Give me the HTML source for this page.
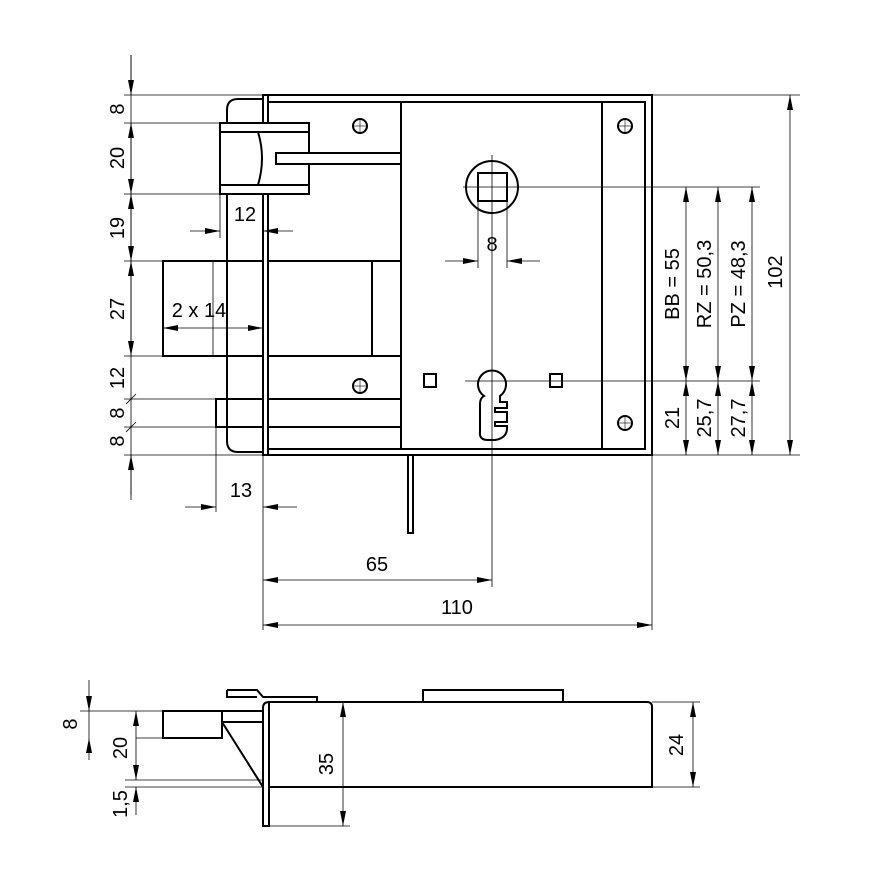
<!DOCTYPE html>
<html><head><meta charset="utf-8"><style>
html,body{margin:0;padding:0;background:#fff}
svg{display:block}
text{font-family:"Liberation Sans",sans-serif;font-size:20px;fill:#000}
</style></head><body>
<svg width="886" height="886" viewBox="0 0 886 886" xmlns="http://www.w3.org/2000/svg">
<defs>
<marker id="a" viewBox="0 0 10 10" refX="10" refY="5" markerWidth="15" markerHeight="6" preserveAspectRatio="none" markerUnits="userSpaceOnUse" orient="auto-start-reverse"><path d="M0,0L10,5L0,10z" fill="#000"/></marker>
</defs>
<g fill="none" stroke="#000" stroke-width="0.8">
<line x1="124" y1="95" x2="800" y2="95"/>
<line x1="124" y1="123" x2="220" y2="123"/>
<line x1="124" y1="194" x2="220" y2="194"/>
<line x1="124" y1="261" x2="163" y2="261"/>
<line x1="124" y1="356" x2="163" y2="356"/>
<line x1="124" y1="399" x2="216" y2="399"/>
<line x1="124" y1="427" x2="216" y2="427"/>
<line x1="124" y1="455" x2="800" y2="455"/>
<line x1="126" y1="404" x2="136" y2="394"/>
<line x1="126" y1="432" x2="136" y2="422"/>
<line x1="131" y1="55" x2="131" y2="500"/>
<line x1="463" y1="187" x2="760" y2="187"/>
<line x1="465" y1="381" x2="760" y2="381"/>
<line x1="492" y1="155" x2="492" y2="587"/>
<line x1="478" y1="195" x2="478" y2="268"/>
<line x1="507" y1="195" x2="507" y2="268"/>
<line x1="220" y1="194" x2="220" y2="238"/>
<line x1="213" y1="261" x2="213" y2="356"/>
<line x1="216" y1="427" x2="216" y2="512"/>
<line x1="263" y1="455" x2="263" y2="630"/>
<line x1="652" y1="455" x2="652" y2="630"/>
<line x1="131" y1="55" x2="131" y2="95" marker-end="url(#a)"/>
<line x1="131" y1="123" x2="131" y2="194" marker-start="url(#a)" marker-end="url(#a)"/>
<line x1="131" y1="194" x2="131" y2="261" marker-start="url(#a)" marker-end="url(#a)"/>
<line x1="131" y1="261" x2="131" y2="356" marker-start="url(#a)" marker-end="url(#a)"/>
<line x1="131" y1="495" x2="131" y2="455" marker-end="url(#a)"/>
<line x1="190" y1="231" x2="220" y2="231" marker-end="url(#a)"/>
<line x1="293" y1="231" x2="263" y2="231" marker-end="url(#a)"/>
<line x1="163" y1="328" x2="263" y2="328" marker-start="url(#a)" marker-end="url(#a)"/>
<line x1="445" y1="261" x2="478" y2="261" marker-end="url(#a)"/>
<line x1="540" y1="261" x2="507" y2="261" marker-end="url(#a)"/>
<line x1="185" y1="507" x2="216" y2="507" marker-end="url(#a)"/>
<line x1="297" y1="507" x2="263" y2="507" marker-end="url(#a)"/>
<line x1="263" y1="580" x2="492" y2="580" marker-start="url(#a)" marker-end="url(#a)"/>
<line x1="263" y1="625" x2="652" y2="625" marker-start="url(#a)" marker-end="url(#a)"/>
<line x1="686" y1="187" x2="686" y2="381" marker-start="url(#a)" marker-end="url(#a)"/>
<line x1="718" y1="187" x2="718" y2="381" marker-start="url(#a)" marker-end="url(#a)"/>
<line x1="752" y1="187" x2="752" y2="381" marker-start="url(#a)" marker-end="url(#a)"/>
<line x1="686" y1="381" x2="686" y2="455" marker-start="url(#a)" marker-end="url(#a)"/>
<line x1="718" y1="381" x2="718" y2="455" marker-start="url(#a)" marker-end="url(#a)"/>
<line x1="752" y1="381" x2="752" y2="455" marker-start="url(#a)" marker-end="url(#a)"/>
<line x1="790" y1="95" x2="790" y2="455" marker-start="url(#a)" marker-end="url(#a)"/>
</g>
<g fill="none" stroke="#000" stroke-width="2">
<rect x="263" y="95" width="389" height="360"/>
<line x1="268" y1="95" x2="268" y2="455"/>
<rect x="268" y="102" width="377" height="347"/>
<line x1="401" y1="102" x2="401" y2="449"/>
<line x1="602" y1="102" x2="602" y2="449"/>
<path d="M263,99 H238 Q227,99 227,110 V441 Q227,452 238,452 H263"/>
<rect x="220" y="123" width="89" height="71" fill="#fff"/>
<line x1="220" y1="132" x2="309" y2="132"/>
<line x1="220" y1="185" x2="309" y2="185"/>
<path d="M258,132 Q266,158 258,185"/>
<rect x="276" y="153" width="125" height="11" fill="#fff"/>
<rect x="163" y="261" width="100" height="95"/>
<line x1="268" y1="261" x2="401" y2="261"/>
<line x1="268" y1="356" x2="401" y2="356"/>
<line x1="372" y1="261" x2="372" y2="356"/>
<line x1="227" y1="261" x2="227" y2="356"/>
<rect x="216" y="399" width="47" height="28"/>
<line x1="268" y1="399" x2="401" y2="399"/>
<line x1="268" y1="427" x2="401" y2="427"/>
<circle cx="360" cy="126" r="7"/><circle cx="360" cy="386" r="7"/>
<circle cx="625" cy="126" r="7"/><circle cx="625" cy="423" r="7"/>
<circle cx="492" cy="187" r="26"/>
<rect x="478" y="173" width="29" height="28"/>
<rect x="424" y="374" width="12" height="13"/>
<rect x="550" y="374" width="12" height="13"/>
<path d="M484,396 A14,14 0 1 1 500,396 V402 H507 V408 H495 V412 H507 V422 H495 V426 H507 Q508,438 495,440 H488 Q479,440 480,432 V404 Q480,398 484,396 Z"/>
<rect x="408" y="455" width="5" height="78"/>
</g>
<g fill="none" stroke="#000" stroke-width="0.6">
<line x1="353" y1="126" x2="367" y2="126"/><line x1="360" y1="119" x2="360" y2="133"/>
<line x1="353" y1="386" x2="367" y2="386"/><line x1="360" y1="379" x2="360" y2="393"/>
<line x1="618" y1="126" x2="632" y2="126"/><line x1="625" y1="119" x2="625" y2="133"/>
<line x1="618" y1="423" x2="632" y2="423"/><line x1="625" y1="416" x2="625" y2="430"/>
</g>
<g>
<text transform="translate(124,109) rotate(-90)" text-anchor="middle">8</text>
<text transform="translate(124,158) rotate(-90)" text-anchor="middle">20</text>
<text transform="translate(124,228) rotate(-90)" text-anchor="middle">19</text>
<text transform="translate(124,309) rotate(-90)" text-anchor="middle">27</text>
<text transform="translate(124,378) rotate(-90)" text-anchor="middle">12</text>
<text transform="translate(124,413) rotate(-90)" text-anchor="middle">8</text>
<text transform="translate(124,441) rotate(-90)" text-anchor="middle">8</text>
<text x="245" y="221" text-anchor="middle">12</text>
<text x="199" y="317" text-anchor="middle">2 x 14</text>
<text x="492" y="251" text-anchor="middle">8</text>
<text x="241" y="497" text-anchor="middle">13</text>
<text x="377" y="571" text-anchor="middle">65</text>
<text x="457" y="614" text-anchor="middle">110</text>
<text transform="translate(679,284) rotate(-90)" text-anchor="middle">BB = 55</text>
<text transform="translate(711,284) rotate(-90)" text-anchor="middle">RZ = 50,3</text>
<text transform="translate(745,284) rotate(-90)" text-anchor="middle">PZ = 48,3</text>
<text transform="translate(782,272) rotate(-90)" text-anchor="middle">102</text>
<text transform="translate(679,418) rotate(-90)" text-anchor="middle">21</text>
<text transform="translate(711,418) rotate(-90)" text-anchor="middle">25,7</text>
<text transform="translate(745,418) rotate(-90)" text-anchor="middle">27,7</text>
</g>
<g fill="none" stroke="#000" stroke-width="0.8">
<line x1="80" y1="711" x2="163" y2="711"/>
<line x1="136" y1="738" x2="163" y2="738"/>
<line x1="125" y1="780" x2="263" y2="780"/>
<line x1="125" y1="787" x2="263" y2="787"/>
<line x1="652" y1="702" x2="700" y2="702"/>
<line x1="652" y1="787" x2="700" y2="787"/>
<line x1="269" y1="826" x2="350" y2="826"/>
<line x1="89" y1="680" x2="89" y2="711" marker-end="url(#a)"/>
<line x1="89" y1="760" x2="89" y2="738" marker-end="url(#a)"/>
<line x1="89" y1="711" x2="89" y2="738"/>
<line x1="136" y1="711" x2="136" y2="780" marker-start="url(#a)" marker-end="url(#a)"/>
<line x1="136" y1="815" x2="136" y2="787" marker-end="url(#a)"/>
<line x1="343" y1="702" x2="343" y2="826" marker-start="url(#a)" marker-end="url(#a)"/>
<line x1="693" y1="702" x2="693" y2="787" marker-start="url(#a)" marker-end="url(#a)"/>
</g>
<g fill="none" stroke="#000" stroke-width="2">
<path d="M269,702 H647 Q652,702 652,707 V787 H269"/>
<path d="M263,826 V708 Q263,702 269,702 V826 Z"/>
<path d="M227,690 H257 L263,697 H317 V702"/>
<path d="M227,690 V697 H257"/>
<path d="M423,702 V690 H563 V702"/>
<rect x="163" y="711" width="59" height="27"/>
<path d="M222,711 H263 M222,711 V722 H263 M222,722 L263,787"/>
</g>
<text transform="translate(77,724) rotate(-90)" text-anchor="middle">8</text>
<text transform="translate(127,748) rotate(-90)" text-anchor="middle">20</text>
<text transform="translate(127,804) rotate(-90)" text-anchor="middle">1,5</text>
<text transform="translate(333,764) rotate(-90)" text-anchor="middle">35</text>
<text transform="translate(683,745) rotate(-90)" text-anchor="middle">24</text>
</svg>
</body></html>
